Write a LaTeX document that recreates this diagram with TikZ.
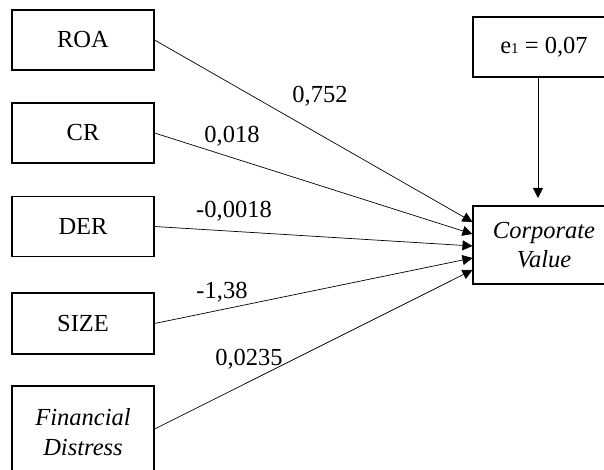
\documentclass[tikz,border=0pt]{standalone}
\usepackage{fontspec}
\setmainfont{Liberation Serif}
\usetikzlibrary{arrows.meta,calc}
\tikzset{
  varbox/.style={draw, line width=1.1pt, minimum width=142pt, inner sep=0pt, align=center,
    font=\fontsize{24.5}{29.5}\selectfont},
  coef/.style={anchor=base, inner sep=0pt, font=\fontsize{24.5}{29.5}\selectfont},
  path/.style={line width=0.7pt, -{Triangle[length=10pt,width=10pt]}}
}
\begin{document}
\begin{tikzpicture}[x=1pt,y=-1pt]
\useasboundingbox (0,0) rectangle (604,470);
\clip (0,0) rectangle (604,470);
\node[varbox, minimum height=60pt] (roa) at (83,40) {ROA};
\node[varbox, minimum height=60pt] (cr) at (83,133) {CR};
\node[varbox, minimum height=60pt] (der) at (83,226.5) {DER};
\node[varbox, minimum height=61pt] (size) at (83,323.5) {SIZE};
\node[varbox, minimum height=92pt] (fd) at (83,432) {\itshape Financial\\\itshape Distress};
\node[varbox, minimum height=60pt] (e1) at (544,47) {e\raisebox{-0.5pt}{\fontsize{15}{15}\selectfont 1} = 0,07};
\node[varbox, minimum height=78pt] (cv) at (544,245) {\itshape Corporate\\\itshape Value};
\draw[path] (roa.east) -- ($(cv.west)+(0,-23)$);
\draw[path] (cr.east) -- ($(cv.west)+(0,-11)$);
\draw[path] (der.east) -- ($(cv.west)+(0,1)$);
\draw[path] (size.east) -- ($(cv.west)+(0,13)$);
\draw[path] ($(fd.east)+(0,-3)$) -- ($(cv.west)+(0,25)$);
\draw[path, line width=0.8pt] (538,77) coordinate (e1s) -- (538,198) coordinate (e1t);
\node[coef] (c1) at (320,103) {0,752};
\node[coef] (c2) at (232,143) {0,018};
\node[coef] (c3) at (234,218) {-0,0018};
\node[coef] (c4) at (222,298) {-1,38};
\node[coef] (c5) at (249,365) {0,0235};
\end{tikzpicture}
\end{document}
